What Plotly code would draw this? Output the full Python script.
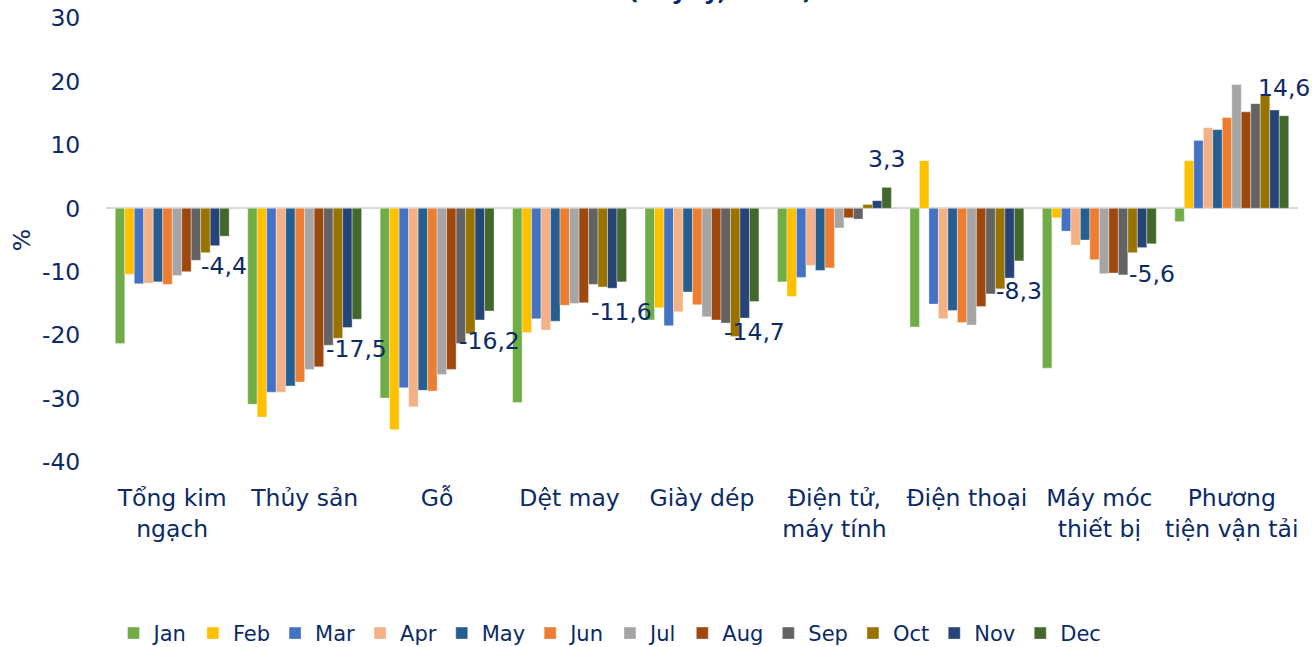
import plotly.graph_objects as go

categories = ["Tổng kim<br>ngạch", "Thủy sản", "Gỗ", "Dệt may", "Giày dép",
              "Điện tử,<br>máy tính", "Điện thoại", "Máy móc<br>thiết bị", "Phương<br>tiện vận tải"]

months = ["Jan", "Feb", "Mar", "Apr", "May", "Jun", "Jul", "Aug", "Sep", "Oct", "Nov", "Dec"]

colors = ["#70AD47", "#FFC000", "#4472C4", "#F4B183", "#255E91", "#ED7D31",
          "#A5A5A5", "#9E480E", "#636363", "#997300", "#264478", "#43682B"]

# values per month, in order of categories
jan = [-21.3, -30.9, -29.9, -30.6, -17.6, -11.6, -18.7, -25.2, -2.1]
feb = [-10.4, -32.9, -34.9, -19.6, -15.7, -13.9, 7.5, -1.5, 7.5]
mar = [-11.9, -29.0, -28.3, -17.4, -18.5, -10.9, -15.1, -3.6, 10.7]
apr = [-11.8, -29.0, -31.3, -19.2, -16.3, -9.0, -17.4, -5.8, 12.7]
may = [-11.6, -28.0, -28.7, -17.8, -13.2, -9.8, -16.1, -5.0, 12.4]
jun = [-12.0, -27.4, -28.8, -15.3, -15.2, -9.4, -18.0, -8.1, 14.3]
jul = [-10.6, -25.4, -26.2, -15.0, -17.1, -3.1, -18.4, -10.3, 19.5]
aug = [-10.0, -25.0, -25.4, -14.9, -17.6, -1.5, -15.5, -10.2, 15.2]
sep = [-8.2, -21.6, -21.3, -12.0, -18.1, -1.7, -13.5, -10.5, 16.5]
oct_ = [-7.0, -20.5, -19.8, -12.4, -20.2, 0.6, -12.7, -7.0, 18.0]
nov = [-5.9, -18.8, -17.6, -12.6, -17.3, 1.2, -11.0, -6.2, 15.5]
dec = [-4.4, -17.5, -16.2, -11.6, -14.7, 3.3, -8.3, -5.6, 14.6]

series = [jan, feb, mar, apr, may, jun, jul, aug, sep, oct_, nov, dec]

y_ticks = [30, 20, 10, 0, -10, -20, -30, -40]
y_ticktext = ["30", "20", "10", "0", "-10", "-20", "-30", "-40"]

navy = "#0B2A66"
font_family = "DejaVu Sans"
fs = 23.5

W, H = 1312, 647
ML, MR, MT, MB = 106, 14, 18, 185
BARGAP = 0.14

fig = go.Figure()
for name, vals, col in zip(months, series, colors):
    fig.add_trace(go.Bar(
        name=name,
        x=categories,
        y=vals,
        marker=dict(color=col, line=dict(color="rgba(255,255,255,0.6)", width=0.6)),
        hoverinfo="x+y+name",
    ))

# data labels for the last series (Dec), placed via annotations on the data axes
plot_w = W - ML - MR
cat_w = plot_w / len(categories)
bar_w = cat_w * (1 - BARGAP) / len(months)
dec_offset = (len(months) - 1) / 2 * bar_w
for cat, v in zip(categories, dec):
    fig.add_annotation(
        x=cat, y=v, xref="x", yref="y",
        text=f"{v:.1f}".replace(".", ","),
        showarrow=False,
        xshift=dec_offset,
        yanchor="middle",
        yshift=28 if v >= 0 else -30,
        font=dict(size=fs, color=navy, family=font_family),
    )

fig.update_layout(
    barmode="group",
    bargap=BARGAP,
    bargroupgap=0,
    width=W,
    height=H,
    autosize=False,
    margin=dict(l=ML, r=MR, t=MT, b=MB, autoexpand=False),
    paper_bgcolor="white",
    plot_bgcolor="white",
    font=dict(family=font_family, size=fs, color=navy),
    showlegend=True,
    legend=dict(
        orientation="h",
        x=(610 - ML) / plot_w, xanchor="center",
        y=-0.34, yanchor="top",
        font=dict(size=21, color=navy, family=font_family),
        itemwidth=30,
        traceorder="normal",
    ),
)

fig.add_annotation(
    text="<b>(% yoy, 2023)</b>",
    xref="paper", yref="paper",
    x=(720 - ML) / plot_w, y=1,
    xanchor="center", yanchor="bottom",
    yshift=11,
    showarrow=False,
    font=dict(size=24, color=navy, family=font_family),
)

fig.update_yaxes(
    range=[-40, 30],
    tickvals=y_ticks,
    ticktext=y_ticktext,
    showgrid=False,
    zeroline=True,
    zerolinecolor="#D9D9D9",
    zerolinewidth=2,
    showline=False,
    ticks="outside",
    ticklen=20,
    tickcolor="rgba(0,0,0,0)",
    ticklabeloverflow="allow",
    tickfont=dict(size=fs, color=navy),
    title=dict(text="%", font=dict(size=fs, color=navy), standoff=4),
)

fig.update_xaxes(
    range=[-0.5, len(categories) - 0.5],
    showgrid=False,
    showline=False,
    ticks="outside",
    ticklen=15,
    tickcolor="rgba(0,0,0,0)",
    ticklabeloverflow="allow",
    tickfont=dict(size=fs, color=navy),
)

fig.write_html(
    "out.html",
    config={"responsive": False, "displayModeBar": False},
    post_script="document.body.style.margin='0px'; document.body.style.overflow='hidden';",
)
